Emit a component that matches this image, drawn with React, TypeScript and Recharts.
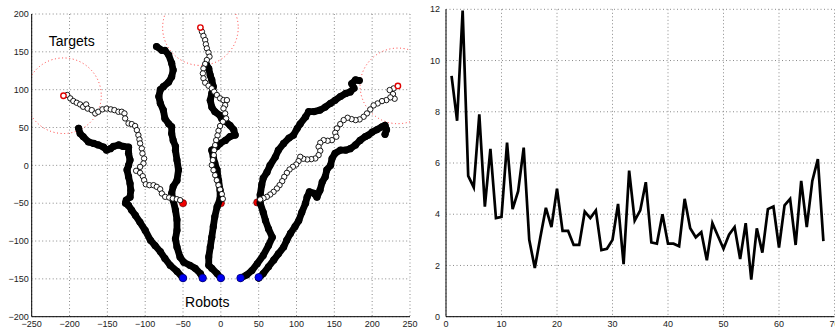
import {
  ScatterChart,
  Scatter,
  LineChart,
  Line,
  XAxis,
  YAxis,
  CartesianGrid,
  ReferenceDot,
} from "recharts";

const FONT = "'Liberation Sans', Arial, Helvetica, sans-serif";

// ---------- left panel: robot trajectories ----------
const xTicksLeft = [-250, -200, -150, -100, -50, 0, 50, 100, 150, 200, 250];
const yTicksLeft = [-200, -150, -100, -50, 0, 50, 100, 150, 200];

const targets = [[-208, 92], [-27, 182], [234, 105]];
const robotStarts = [[-50, -149], [-24, -149], [0, -149], [26, -149], [50, -148]];
const goalDots = [[-50, -50], [0, -50], [48, -49]];

const robot1 = [
  [-50, -149], [-58, -140], [-67, -132], [-74, -123], [-80, -114], [-87, -106], [-93, -99],
  [-100, -86], [-107, -75], [-113, -66], [-118, -59], [-122, -53], [-126, -50], [-125, -46],
  [-120, -42], [-119, -33], [-120, -24], [-122, -15], [-124, -6], [-122, 0], [-120, 7],
  [-122, 16], [-122, 24], [-129, 25], [-135, 27], [-142, 25], [-146, 22], [-151, 20],
  [-155, 24], [-162, 27], [-168, 29], [-175, 31], [-182, 38], [-186, 42], [-188, 49],
];

const robot2 = [
  [-24, -149], [-27, -143], [-34, -136], [-41, -132], [-49, -128], [-54, -121], [-58, -108],
  [-60, -97], [-58, -86], [-58, -72], [-60, -59], [-63, -46], [-65, -37], [-63, -28],
  [-58, -20], [-56, -6], [-58, 7], [-60, 20], [-60, 25], [-63, 33], [-65, 42], [-65, 51],
  [-69, 55], [-74, 62], [-76, 73], [-80, 82], [-82, 91], [-80, 100], [-76, 104], [-69, 110],
  [-65, 117], [-63, 126], [-65, 135], [-69, 146], [-74, 152], [-78, 152], [-85, 157],
];

const robot3 = [
  [0, -149], [-5, -143], [-12, -136], [-16, -132], [-16, -121], [-14, -108], [-12, -95],
  [-10, -81], [-8, -68], [-5, -55], [-1, -44], [-1, -33], [-3, -20], [-5, -6], [-8, 3],
  [-10, 11], [-12, 20], [-5, 25], [-1, 29], [6, 33], [12, 38], [19, 40], [17, 47], [12, 53],
  [6, 58], [1, 62], [-1, 66], [-8, 71], [-12, 77], [-14, 86], [-12, 95], [-10, 104],
  [-12, 113], [-14, 119], [-16, 128], [-19, 133],
];

const robot4 = [
  [26, -149], [34, -145], [41, -139], [48, -130], [56, -119], [63, -106], [68, -95], [63, -84],
  [59, -73], [56, -62], [52, -50], [52, -39], [54, -26], [56, -17], [61, -9], [65, 0], [72, 11],
  [76, 20], [83, 29], [90, 36], [96, 40], [101, 49], [105, 55], [112, 64], [116, 71], [123, 71],
  [131, 73], [138, 77], [145, 82], [151, 86], [158, 91], [165, 95], [171, 97], [176, 102],
  [173, 108], [178, 113], [183, 112],
];

const robot5 = [
  [50, -149], [56, -143], [63, -134], [70, -125], [76, -117], [83, -108], [87, -99], [92, -90],
  [98, -81], [103, -73], [107, -62], [112, -50], [114, -42], [117, -35], [123, -37], [127, -42],
  [131, -33], [134, -22], [138, -15], [140, -6], [145, 0], [147, 9], [151, 16], [158, 20],
  [165, 20], [171, 22], [178, 27], [184, 33], [191, 38], [195, 40], [200, 44], [206, 47],
  [213, 51], [217, 53], [219, 47], [217, 41],
];

const pathA = [
  [-203, 93], [-199, 88.5], [-195, 85], [-190.5, 82.7], [-186, 80.5], [-182, 77.4], [-178, 80.5],
  [-176, 75], [-170.6, 73], [-166, 68.6], [-162, 70.8], [-156.5, 74], [-151, 75], [-145.5, 74],
  [-140.7, 73], [-135.4, 70.8], [-131, 70.8], [-127.4, 68.6], [-126.5, 62], [-122, 55.4],
  [-117.7, 54.5], [-113.3, 52], [-111, 46.6], [-109, 40], [-107.6, 34.2], [-106.7, 29],
  [-104.5, 22.3], [-103.6, 15.7], [-101.4, 9], [-102.3, 2.5], [-106.7, -2], [-112, -7.2],
  [-106.7, -10], [-103.2, -14.3], [-101.4, -19.6], [-99.2, -25], [-94.4, -26.2], [-89, -26.2],
  [-84.7, -28.4], [-80.2, -31.5], [-78, -37.2], [-73.6, -41.6], [-68.3, -42.5], [-63.5, -43.8],
  [-58.2, -44.7], [-53.8, -46],
];

const pathB = [
  [-25, 176.6], [-23, 171], [-20.7, 165.6], [-19.8, 160], [-18.5, 154.6], [-16.3, 149],
  [-15, 143.6], [-18.5, 139.2], [-20.7, 134], [-23, 128], [-23.8, 121.5], [-23, 115],
  [-20.7, 109.2], [-16.3, 105.2], [-12, 101.7], [-8.8, 97.3], [-5.3, 93], [-1, 88.5], [3.5, 86.2],
  [8, 86.2], [5.7, 79.6], [3.5, 75.2], [5.7, 68.6], [7, 62], [2.6, 57.6], [-1, 52], [-3.1, 45.7],
  [-4.4, 39.5], [-6.2, 33.3], [-7.5, 26.7], [-8.8, 20], [-9.3, 13.5], [-10.6, 7], [-12, 0.3],
  [-9.7, -6.3], [-7.5, -13], [-5.3, -19.6], [-3.1, -26.2], [-1, -32], [1.3, -38], [2.6, -44.3],
];

const pathC = [
  [228.4, 101.7], [223.1, 99.5], [227.5, 94.2], [229.7, 88], [224, 89.8], [218.7, 86.2],
  [213, 84.9], [207.2, 81.8], [201.9, 79.2], [197.5, 73.9], [193.1, 68.6], [188.7, 64.2],
  [183.4, 60.7], [178.1, 59.8], [172.8, 61.1], [167.5, 62.9], [162.3, 59.8], [157.8, 54.5],
  [153.4, 48.8], [151.2, 43], [152.6, 37.8], [146.8, 33.3], [141.1, 32.5], [135.8, 33.3],
  [131.4, 29.8], [129.2, 24.5], [131.4, 19.2], [129.2, 13.5], [124.8, 9.1], [119.5, 8.2],
  [114.2, 7.8], [108.9, 8.7], [104.9, 11.3], [102.7, 5.6], [99.6, 1.1], [95.2, -1.9],
  [90.8, -5.5], [87.3, -9.9], [83.8, -15.2], [81.1, -20.9], [77.6, -26.2], [74.1, -30.6],
  [69.7, -35], [65.3, -38.5], [60.8, -41.6], [56.4, -43.4], [52, -45.1],
];

// ---------- right panel: error per iteration ----------
const errorValues = [
  9.4, 7.65, 11.95, 5.5, 5.05, 7.9, 4.3, 6.55, 3.85, 3.9, 6.8, 4.2, 4.9, 6.6, 3.0, 1.9, 3.1,
  4.25, 3.5, 5.0, 3.35, 3.35, 2.8, 2.8, 4.1, 3.85, 4.15, 2.6, 2.65, 3.0, 4.4, 2.05, 5.7, 3.75,
  4.15, 5.25, 2.9, 2.85, 4.0, 2.85, 2.85, 2.75, 4.6, 3.45, 3.1, 3.3, 2.2, 3.65, 3.15, 2.65,
  3.2, 3.5, 2.25, 3.65, 1.45, 3.45, 2.5, 4.2, 4.3, 2.7, 4.35, 4.6, 2.8, 5.3, 3.5, 5.3, 6.15,
  2.95,
];
const xTicksRight = [0, 10, 20, 30, 40, 50, 60, 70];
const yTicksRight = [0, 2, 4, 6, 8, 10, 12];

const toXY = (pts: number[][]) => pts.map(([x, y]) => ({ x, y }));
const errorData = errorValues.map((y, i) => ({ x: i + 1, y }));

const fmt = (v: number) => (v < 0 ? `\u2212${Math.abs(v)}` : `${v}`);
const tickStyle = { fill: "#222", fontSize: 9, fontFamily: FONT };
const gridProps = { stroke: "#8a8a8a", strokeDasharray: "1 2.5" };

const blackDot = (p: any) => <circle cx={p.cx} cy={p.cy} r={3.6} fill="#000" />;
const hollowDot = (p: any) => (
  <circle cx={p.cx} cy={p.cy} r={2.7} fill="#fff" stroke="#000" strokeWidth={0.9} />
);
const targetDot = (p: any) => (
  <circle cx={p.cx} cy={p.cy} r={2.7} fill="#fff" stroke="#e00000" strokeWidth={1.4} />
);
const goalDot = (p: any) => (
  <circle cx={p.cx} cy={p.cy} r={3.6} fill="#f00000" stroke="#500" strokeWidth={0.6} />
);
const startDot = (p: any) => (
  <circle cx={p.cx} cy={p.cy} r={3.8} fill="#0000f0" stroke="#000060" strokeWidth={0.6} />
);

const trailLine = { stroke: "#000", strokeWidth: 6.8, strokeLinejoin: "round", strokeLinecap: "round" };

// 50 data units on either axis, in pixels
const TARGET_RADIUS_PX = 37.8;

function TrajectoryPanel() {
  const robots = [robot1, robot2, robot3, robot4, robot5];
  const paths = [pathA, pathB, pathC];
  return (
    <ScatterChart width={420} height={330} margin={{ top: 14, right: 10, bottom: 0, left: 0 }}>
      <CartesianGrid {...gridProps} />
      <XAxis
        type="number"
        dataKey="x"
        domain={[-250, 250]}
        ticks={xTicksLeft}
        interval={0}
        height={13.3}
        tickSize={0}
        tickMargin={4}
        tickFormatter={fmt}
        tick={tickStyle}
        axisLine={{ stroke: "#000" }}
      />
      <YAxis
        type="number"
        dataKey="y"
        domain={[-200, 200]}
        ticks={yTicksLeft}
        interval={0}
        width={31.7}
        tickSize={0}
        tickMargin={3}
        tickFormatter={fmt}
        tick={tickStyle}
        axisLine={{ stroke: "#000" }}
      />
      {targets.map(([x, y], i) => (
        <ReferenceDot
          key={`ring${i}`}
          x={x}
          y={y}
          r={TARGET_RADIUS_PX}
          fill="none"
          stroke="#ff3b3b"
          strokeWidth={1}
          strokeDasharray="1 2.6"
          ifOverflow="hidden"
        />
      ))}
      <Scatter data={toXY(goalDots)} shape={goalDot} isAnimationActive={false} />
      {robots.map((r, i) => (
        <Scatter
          key={`robot${i}`}
          data={toXY(r)}
          line={trailLine}
          shape={blackDot}
          isAnimationActive={false}
        />
      ))}
      {paths.map((p, i) => (
        <Scatter key={`path${i}`} data={toXY(p)} shape={hollowDot} isAnimationActive={false} />
      ))}
      <Scatter data={toXY(targets)} shape={targetDot} isAnimationActive={false} />
      <Scatter data={toXY(robotStarts)} shape={startDot} isAnimationActive={false} />
      <ReferenceDot
        x={-197}
        y={164}
        r={1}
        fill="none"
        stroke="none"
        label={{ value: "Targets", position: "center", fontSize: 14, fill: "#000", fontFamily: FONT }}
      />
      <ReferenceDot
        x={-18}
        y={-181}
        r={1}
        fill="none"
        stroke="none"
        label={{ value: "Robots", position: "center", fontSize: 14, fill: "#000", fontFamily: FONT }}
      />
    </ScatterChart>
  );
}

function ErrorPanel() {
  return (
    <LineChart width={415} height={330} data={errorData} margin={{ top: 9.3, right: 0.5, bottom: 0, left: 0 }}>
      <CartesianGrid {...gridProps} />
      <XAxis
        type="number"
        dataKey="x"
        domain={[0, 70]}
        ticks={xTicksRight}
        interval={0}
        height={13.3}
        tickSize={0}
        tickMargin={4}
        tick={tickStyle}
        axisLine={{ stroke: "#000" }}
      />
      <YAxis
        type="number"
        domain={[0, 12]}
        ticks={yTicksRight}
        interval={0}
        width={26}
        tickSize={0}
        tickMargin={6}
        tick={tickStyle}
        axisLine={{ stroke: "#000" }}
      />
      <Line dataKey="y" stroke="#000" strokeWidth={2.7} dot={false} isAnimationActive={false} />
    </LineChart>
  );
}

export default function App() {
  return (
    <div style={{ position: "absolute", left: 0, top: 0, width: 835, height: 330, background: "#fff", overflow: "hidden" }}>
      <div style={{ position: "absolute", left: 0, top: 0 }}>
        <TrajectoryPanel />
      </div>
      <div style={{ position: "absolute", left: 420, top: 0 }}>
        <ErrorPanel />
      </div>
    </div>
  );
}
